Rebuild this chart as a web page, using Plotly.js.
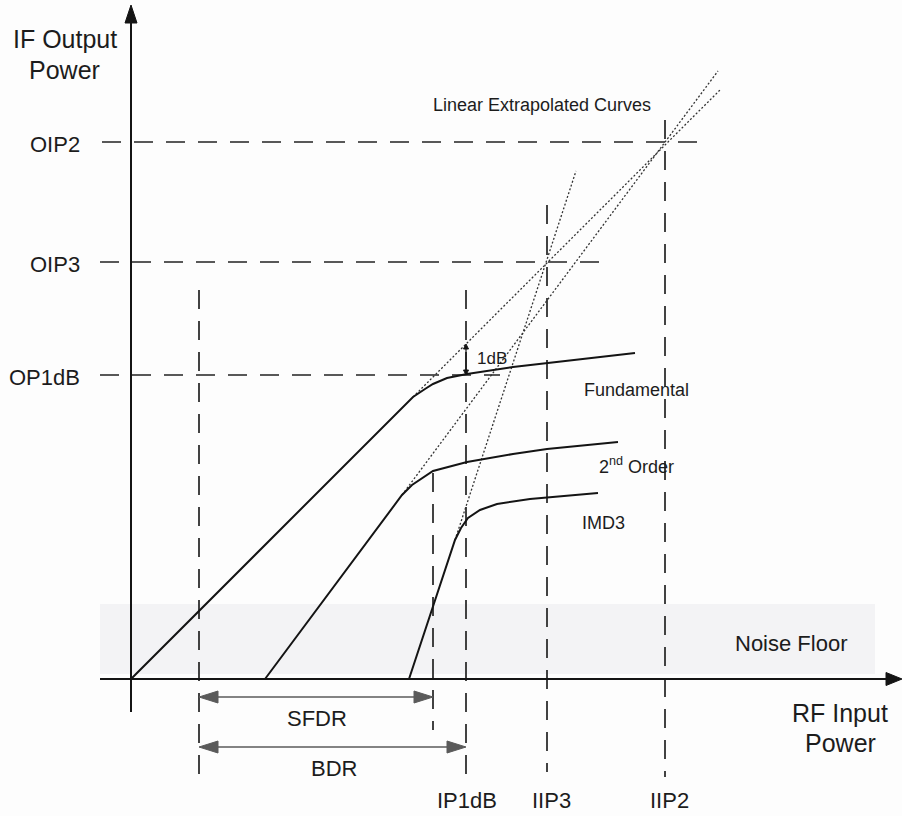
<!DOCTYPE html>
<html>
<head>
<meta charset="utf-8">
<script src="https://cdn.plot.ly/plotly-3.0.1.min.js"></script>
<style>
  html, body { margin: 0; padding: 0; background: #fdfdfd; }
  #chart { width: 902px; height: 816px; }
</style>
</head>
<body>
<div id="chart"></div>
<script>
// Diagram units: origin at the axis crossing, one unit = one screen pixel on both axes.

// Fundamental output vs. RF input (linear, then compressing)
const fundamentalX = [0, 274, 282, 294, 302, 316, 336, 382, 416, 504];
const fundamentalY = [0, 274, 282, 290, 295, 301, 305, 312, 316, 326];
// Second-order product
const secondOrderX = [134, 271, 281, 302, 336, 382, 416, 487];
const secondOrderY = [0, 184, 194, 208, 217, 225, 230, 237];
// Third-order intermodulation product
const imd3X = [278, 324, 330, 337, 349, 366, 399, 467];
const imd3Y = [0, 139, 151, 161, 169, 175, 180, 186];

// Linear extrapolations of the three curves
const fundExtrapX = [282, 589];
const fundExtrapY = [282, 589];
const secondExtrapX = [271, 587];
const secondExtrapY = [184, 608];
const imd3ExtrapX = [324, 445];
const imd3ExtrapY = [139, 508];

// Output-referred levels (horizontal guides)
const outputNames = ['OIP2', 'OIP3', 'OP1dB'];
const outputLevels = [537, 417, 304];
const outputGuideStart = [-29, -31, -31];
const outputGuideEnd = [572, 470, 369];

// Vertical guides (range limits and input-referred points)
const inputGuideX = [68, 302, 335, 416, 534];
const inputGuideTop = [389, 206, 389, 474, 559];
const inputGuideBottom = [-99, -51, -99, -93, -98];
const inputNames = ['IP1dB', 'IIP3', 'IIP2'];
const inputNameX = [336, 420, 538];

// Dynamic ranges
const rangeNames = ['SFDR', 'BDR'];
const rangeStart = [68, 68];
const rangeEnd = [302, 335];
const rangeLevel = [-18, -68];

// 1 dB compression gap at IP1dB
const compressionX = 335;
const compressionTop = 335;
const compressionBottom = 304;

// Axes
const yAxisX = [0, 0];
const yAxisY = [-33, 674];
const xAxisX = [-31, 771];
const xAxisY = [0, 0];

const INK = '#141414';
const GREY = '#5a5a5a';
const FONT = 'Liberation Sans, Arial, sans-serif';

const traces = [];

function line(xs, ys, color, width, dash) {
  traces.push({
    type: 'scatter', mode: 'lines', x: xs, y: ys,
    line: { color: color, width: width, dash: dash || 'solid', shape: 'linear' },
    hoverinfo: 'skip', showlegend: false
  });
}

// filled triangular arrow head pointing from (fx,fy) towards (tx,ty)
function head(tx, ty, fx, fy, len, halfW, color) {
  const dx = tx - fx, dy = ty - fy, d = Math.hypot(dx, dy);
  const ux = dx / d, uy = dy / d;
  const bx = tx - ux * len, by = ty - uy * len;
  traces.push({
    type: 'scatter', mode: 'lines', fill: 'toself', fillcolor: color,
    x: [tx, bx - uy * halfW, bx + uy * halfW, tx],
    y: [ty, by + ux * halfW, by - ux * halfW, ty],
    line: { color: color, width: 1 }, hoverinfo: 'skip', showlegend: false
  });
  return [bx, by];
}

// horizontal dashed guides
outputLevels.forEach((lvl, i) => {
  line([outputGuideStart[i], outputGuideEnd[i]], [lvl, lvl], '#222', 1.7, '19px,13px');
});
// vertical dashed guides
inputGuideX.forEach((gx, i) => {
  line([gx, gx], [inputGuideTop[i], inputGuideBottom[i]], '#222', 1.7, '19px,12px');
});

// extrapolations
line(fundExtrapX, fundExtrapY, '#333', 1.3, '2px,2px');
line(secondExtrapX, secondExtrapY, '#333', 1.3, '2px,2px');
line(imd3ExtrapX, imd3ExtrapY, '#333', 1.3, '2px,2px');

// response curves
line(fundamentalX, fundamentalY, INK, 2);
line(secondOrderX, secondOrderY, INK, 2);
line(imd3X, imd3Y, INK, 2);

// axes with arrow heads
const yBase = head(yAxisX[1], yAxisY[1], yAxisX[0], yAxisY[0], 18, 6, INK);
line([yAxisX[0], yBase[0]], [yAxisY[0], yBase[1]], INK, 2);
const xBase = head(xAxisX[1], xAxisY[1], xAxisX[0], xAxisY[0], 16, 6.5, INK);
line([xAxisX[0], xBase[0]], [xAxisY[0], xBase[1]], INK, 2);

// dynamic-range double arrows
rangeNames.forEach((n, i) => {
  const y = rangeLevel[i];
  const a = head(rangeStart[i], y, rangeEnd[i], y, 19, 6, GREY);
  const b = head(rangeEnd[i], y, rangeStart[i], y, 19, 6, GREY);
  line([a[0], b[0]], [y, y], GREY, 1.6);
});

// 1 dB gap marker
const cTop = head(compressionX, compressionTop, compressionX, compressionBottom, 5, 2.5, INK);
const cBot = head(compressionX, compressionBottom, compressionX, compressionTop, 5, 2.5, INK);
line([compressionX, compressionX], [cTop[1], cBot[1]], INK, 1.2);

const annotations = [];
function label(text, x, y, size, xanchor) {
  annotations.push({
    text: text, x: x, y: y, xref: 'x', yref: 'y', showarrow: false,
    xanchor: xanchor || 'center', yanchor: 'middle',
    font: { family: FONT, size: size, color: '#1c1c1c' }
  });
}

label('IF Output', -66, 640, 25);
label('Power', -67, 609, 25);
outputNames.forEach((n, i) => label(n, -49, outputLevels[i] - 2, 22, 'right'));
label('Linear Extrapolated Curves', 411, 574, 18);
label('1dB', 361, 321, 17);
label('Fundamental', 451, 289, 18, 'left');
label('2<sup>nd</sup> Order', 466, 214, 18, 'left');
label('IMD3', 449, 156, 18, 'left');
label('Noise Floor', 602, 36, 22, 'left');
label('RF Input', 709, -34, 25);
label('Power', 709, -64, 25);
rangeNames.forEach((n, i) => label(n, (rangeStart[i] + rangeEnd[i]) / 2 + 1, rangeLevel[i] - 21, 22));
inputNames.forEach((n, i) => label(n, inputNameX[i], -121, 22));

const layout = {
  width: 902, height: 816,
  margin: { l: 0, r: 0, t: 0, b: 0 },
  paper_bgcolor: '#fdfdfd', plot_bgcolor: '#fdfdfd',
  showlegend: false,
  xaxis: { range: [-131, 771], visible: false, fixedrange: true },
  yaxis: { range: [-137, 679], visible: false, fixedrange: true },
  shapes: [{
    type: 'rect', xref: 'x', yref: 'y', x0: -31, x1: 744, y0: 5, y1: 75,
    fillcolor: 'rgba(110,110,135,0.07)', line: { width: 0 }, layer: 'below'
  }],
  annotations: annotations
};

Plotly.newPlot('chart', traces, layout, { staticPlot: true, displayModeBar: false });
</script>
</body>
</html>
